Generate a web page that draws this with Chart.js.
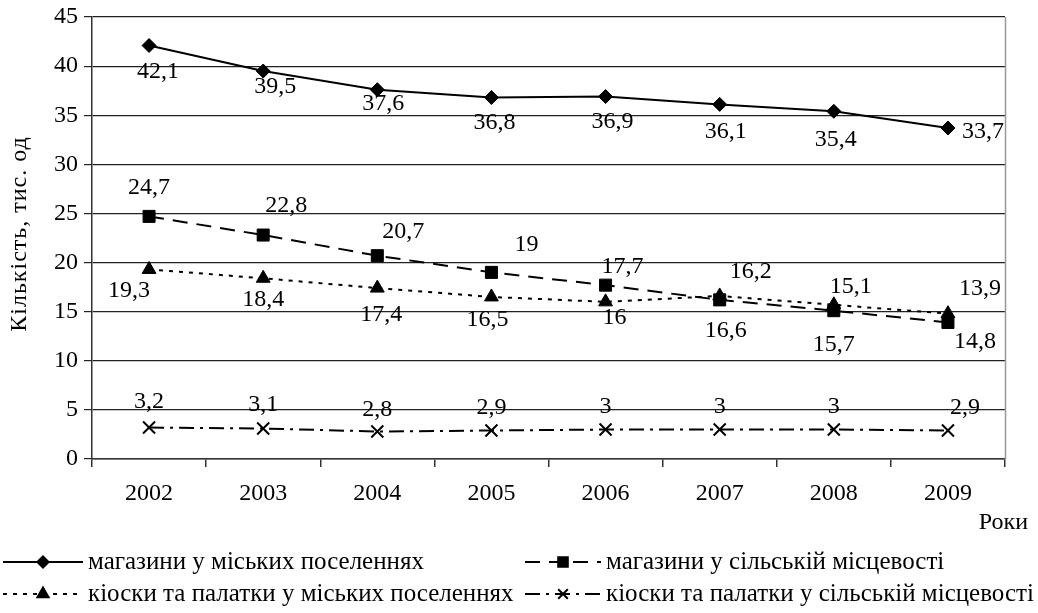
<!DOCTYPE html>
<html>
<head>
<meta charset="utf-8">
<script src="https://cdn.jsdelivr.net/npm/chart.js@4/dist/chart.umd.min.js"></script>
<style>
html,body{margin:0;padding:0;background:#fff;}
#wrap{width:1038px;height:613px;position:relative;}
</style>
</head>
<body>
<div id="wrap"><canvas id="c" width="1038" height="613"></canvas></div>
<script>
const years = ['2002','2003','2004','2005','2006','2007','2008','2009'];
const shopsUrban = [42.1, 39.5, 37.6, 36.8, 36.9, 36.1, 35.4, 33.7];
const shopsRural = [24.7, 22.8, 20.7, 19, 17.7, 16.2, 15.1, 13.9];
const kiosksUrban = [19.3, 18.4, 17.4, 16.5, 16, 16.6, 15.7, 14.8];
const kiosksRural = [3.2, 3.1, 2.8, 2.9, 3, 3, 3, 2.9];
const seriesNames = [
  'магазини у міських поселеннях',
  'магазини у сільській місцевості',
  'кіоски та палатки у міських поселеннях',
  'кіоски та палатки у сільській місцевості'
];
const yTitle = 'Кількість, тис. од';
const xTitle = 'Роки';

const FONT = '"Liberation Serif", "Times New Roman", serif';

// label offsets (pixels) relative to each marker — styling only
const labelOffsets = [
  [[9,26],[12,16],[6,14],[3,25],[7,25],[6,27],[2,28],[35,4]],
  [[0,-29],[23,-29],[26,-24],[35,-28],[17,-18],[31,-28],[17,-24],[32,-34]],
  [[-20,21],[0,21],[4,27],[-4,23],[9,16],[6,35],[0,40],[27,28]],
  [[0,-26],[0,-24],[0,-22],[0,-23],[0,-23],[0,-23],[0,-23],[17,-23]]
];

const labelPlugin = {
  id: 'valueLabels',
  afterDatasetsDraw(chart) {
    const ctx = chart.ctx;
    ctx.save();
    ctx.font = '24px ' + FONT;
    ctx.fillStyle = '#000';
    ctx.textAlign = 'center';
    ctx.textBaseline = 'middle';
    chart.data.datasets.forEach((ds, di) => {
      const meta = chart.getDatasetMeta(di);
      meta.data.forEach((pt, i) => {
        const off = labelOffsets[di][i];
        const txt = String(ds.data[i]).replace('.', ',');
        ctx.fillText(txt, pt.x + off[0], pt.y + off[1]);
      });
    });
    ctx.restore();
  }
};

const framePlugin = {
  id: 'frame',
  afterDraw(chart) {
    const ctx = chart.ctx;
    const a = chart.chartArea;
    ctx.save();
    // right border of plot area
    ctx.strokeStyle = '#999';
    ctx.lineWidth = 1.5;
    ctx.beginPath();
    ctx.moveTo(a.right + 0.5, a.top);
    ctx.lineTo(a.right + 0.5, a.bottom);
    ctx.stroke();
    // axis titles
    ctx.fillStyle = '#000';
    ctx.font = '24px ' + FONT;
    ctx.textAlign = 'right';
    ctx.textBaseline = 'middle';
    ctx.fillText(xTitle, 1028, 523);
    ctx.save();
    ctx.translate(20, 234);
    ctx.rotate(-Math.PI / 2);
    ctx.textAlign = 'center';
    ctx.letterSpacing = '1px';
    ctx.fillText(yTitle, 0, 0);
    ctx.restore();
    // legend
    const items = [
      {x: 3, y: 562},
      {x: 525, y: 562},
      {x: 3, y: 594},
      {x: 525, y: 594}
    ];
    chart.data.datasets.forEach((ds, di) => {
      const it = items[di];
      const len = di % 2 === 0 ? 80 : 76;
      ctx.save();
      ctx.strokeStyle = '#000';
      ctx.lineWidth = ds.borderWidth;
      ctx.setLineDash(ds.borderDash || []);
      ctx.beginPath();
      ctx.moveTo(it.x, it.y);
      ctx.lineTo(it.x + len, it.y);
      ctx.stroke();
      ctx.setLineDash([]);
      Chart.helpers.drawPoint(ctx, {
        pointStyle: ds.pointStyle,
        radius: ds.pointRadius * 0.8,
        borderWidth: ds.pointBorderWidth || 1,
        rotation: 0
      }, it.x + len / 2, it.y);
      ctx.fillStyle = '#000';
      if (ds.pointStyle !== 'crossRot') ctx.fill();
      ctx.restore();
      ctx.fillStyle = '#000';
      ctx.font = '25px ' + FONT;
      ctx.textAlign = 'left';
      ctx.textBaseline = 'middle';
      ctx.fillText(seriesNames[di], it.x + len + 5, it.y);
    });
    ctx.restore();
  }
};

const common = {
  borderColor: '#000',
  backgroundColor: '#000',
  pointBackgroundColor: '#000',
  pointBorderColor: '#000',
  fill: false,
  tension: 0
};

new Chart(document.getElementById('c'), {
  type: 'line',
  data: {
    labels: years,
    datasets: [
      Object.assign({}, common, {label: seriesNames[0], data: shopsUrban, borderWidth: 2, pointStyle: 'rectRot', pointRadius: 7, pointBorderWidth: 1}),
      Object.assign({}, common, {label: seriesNames[1], data: shopsRural, borderWidth: 2, borderDash: [15, 9], pointStyle: 'rect', pointRadius: 8.5, pointBorderWidth: 1}),
      Object.assign({}, common, {label: seriesNames[2], data: kiosksUrban, borderWidth: 2, borderDash: [4, 6], pointStyle: 'triangle', pointRadius: 8, pointBorderWidth: 1}),
      Object.assign({}, common, {label: seriesNames[3], data: kiosksRural, borderWidth: 2, borderDash: [15, 6, 3, 6], pointStyle: 'crossRot', pointRadius: 8.5, pointBorderWidth: 2})
    ]
  },
  options: {
    responsive: false,
    animation: false,
    devicePixelRatio: 1,
    layout: {padding: {top: 17, right: 33, bottom: 94, left: 0}},
    plugins: {legend: {display: false}, tooltip: {enabled: false}},
    scales: {
      x: {
        offset: true,
        grid: {offset: true, drawOnChartArea: false, drawTicks: true, tickLength: 8, color: '#333', lineWidth: 1.5},
        border: {color: '#333', width: 1.5},
        ticks: {color: '#000', font: {family: FONT, size: 24}, padding: 12, maxRotation: 0},
        afterFit(s) { s.height = 60; s.paddingLeft = 0; s.paddingRight = 0; }
      },
      y: {
        min: 0, max: 45,
        grid: {color: '#222', lineWidth: 1.2, drawTicks: true, tickLength: 8},
        border: {color: '#333', width: 1.5},
        ticks: {stepSize: 5, color: '#000', font: {family: FONT, size: 24}, padding: 6},
        afterFit(s) { s.width = 92; s.paddingTop = 0; s.paddingBottom = 0; }
      }
    }
  },
  plugins: [labelPlugin, framePlugin]
});
</script>
</body>
</html>
